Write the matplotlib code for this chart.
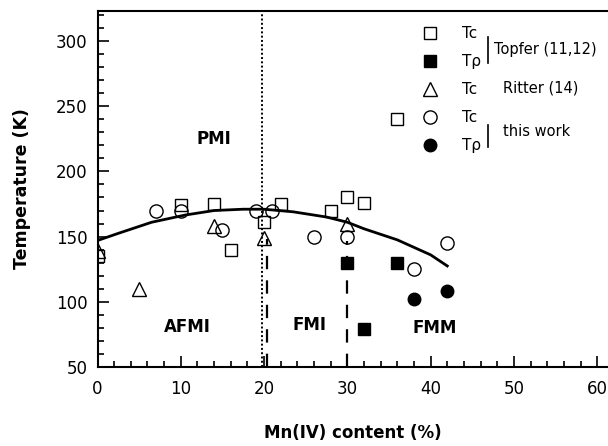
import numpy as np
import matplotlib
matplotlib.use("Agg")
import matplotlib.pyplot as plt
from matplotlib.ticker import MultipleLocator

plt.rcParams["font.family"] = ["DejaVu Sans"]

# Topfer (11,12): Tc (open squares) and T_rho (filled squares)
topfer_tc_x = [0, 10, 14, 16, 20, 22, 28, 30, 32, 36]
topfer_tc_y = [135, 174, 175, 140, 161, 175, 170, 180, 176, 240]
topfer_tr_x = [30, 32, 36]
topfer_tr_y = [130, 79, 130]

# Ritter (14): Tc (open triangles)
ritter_tc_x = [0, 5, 14, 20, 30]
ritter_tc_y = [139, 110, 158, 149, 160]

# this work: Tc (open circles) and T_rho (filled circles)
work_tc_x = [7, 10, 15, 19, 21, 26, 30, 38, 42]
work_tc_y = [170, 170, 155, 170, 170, 150, 150, 125, 145]
work_tr_x = [38, 42]
work_tr_y = [102, 108]

# guide curve for Tc
curve_x = [0, 2.5, 6.5, 10.5, 14, 17.5, 20, 23.5, 27.5, 30, 32, 36, 40, 42]
curve_y = [147, 152.5, 161, 166.5, 170, 171, 171, 169, 165, 161, 156, 147.5, 136, 127.5]

# phase boundaries
dotted_x = 19.7
dashed_x = [20.3, 30]
dashed_top = [148, 147]

regions = ["PMI", "AFMI", "FMI", "FMM"]
region_x = [14, 10.8, 25.5, 40.5]
region_y = [225, 81, 82, 80]

fig = plt.figure(figsize=(6.08, 4.46), dpi=100)
ax = fig.add_axes([97.5 / 608, 1 - 367 / 446, 1 - 97.5 / 608, 356 / 446])

ax.plot(curve_x, curve_y, "k-", lw=2, zorder=2)
ax.axvline(dotted_x, color="k", ls=(0, (1, 1.2)), lw=1.4, zorder=1)
for xd, yt in zip(dashed_x, dashed_top):
    ax.plot([xd, xd], [50, yt], color="k", ls=(0, (6, 5)), lw=1.6, zorder=1)

h1, = ax.plot(topfer_tc_x, topfer_tc_y, "s", ms=9, mfc="none", mec="k", mew=1, ls="none", label="Tc", zorder=3)
h2, = ax.plot(topfer_tr_x, topfer_tr_y, "s", ms=8.5, mfc="k", mec="k", ls="none", label="Tρ", zorder=3)
h3, = ax.plot(ritter_tc_x, ritter_tc_y, "^", ms=10, mfc="none", mec="k", mew=1, ls="none", label="Tc", zorder=4)
h4, = ax.plot(work_tc_x, work_tc_y, "o", ms=9.5, mfc="none", mec="k", mew=1, ls="none", label="Tc", zorder=4)
h5, = ax.plot(work_tr_x, work_tr_y, "o", ms=9, mfc="k", mec="k", ls="none", label="Tρ", zorder=3)

for name, rx, ry in zip(regions, region_x, region_y):
    ax.text(rx, ry, name, fontsize=12, fontweight="bold", ha="center", va="center")

leg = ax.legend(handles=[h1, h2, h3, h4, h5], loc="upper left",
                bbox_to_anchor=(0.622, 0.978), frameon=False, fontsize=11,
                borderpad=0, handlelength=1.0, handletextpad=1.6,
                labelspacing=0.85, numpoints=1)

# group labels and brackets for the legend
ax.plot([0.765, 0.765], [0.854, 0.927], color="k", lw=1.2, transform=ax.transAxes, clip_on=False)
ax.plot([0.765, 0.765], [0.618, 0.680], color="k", lw=1.2, transform=ax.transAxes, clip_on=False)
ax.text(0.776, 0.893, "Topfer (11,12)", transform=ax.transAxes, fontsize=10.5, va="center")
ax.text(0.794, 0.784, "Ritter (14)", transform=ax.transAxes, fontsize=10.5, va="center")
ax.text(0.794, 0.661, "this work", transform=ax.transAxes, fontsize=10.5, va="center")

ax.set_xlim(0, 61.3)
ax.set_ylim(50, 323)
ax.xaxis.set_major_locator(MultipleLocator(10))
ax.xaxis.set_minor_locator(MultipleLocator(2))
ax.yaxis.set_major_locator(MultipleLocator(50))
ax.yaxis.set_minor_locator(MultipleLocator(10))
ax.tick_params(which="both", direction="in", top=False, right=False, labelsize=12, width=1.2)
ax.tick_params(which="major", length=8)
ax.tick_params(which="minor", length=4)
ax.tick_params(axis="y", pad=7)
ax.tick_params(axis="x", pad=9)
ax.spines["right"].set_visible(False)
for s in ["left", "bottom", "top"]:
    ax.spines[s].set_linewidth(1.5)

ax.set_xlabel("Mn(IV) content (%)", fontsize=12, fontweight="bold", labelpad=19)
ax.set_ylabel("Temperature (K)", fontsize=12.5, fontweight="bold", labelpad=18)

fig.savefig("out.png", dpi=100)
